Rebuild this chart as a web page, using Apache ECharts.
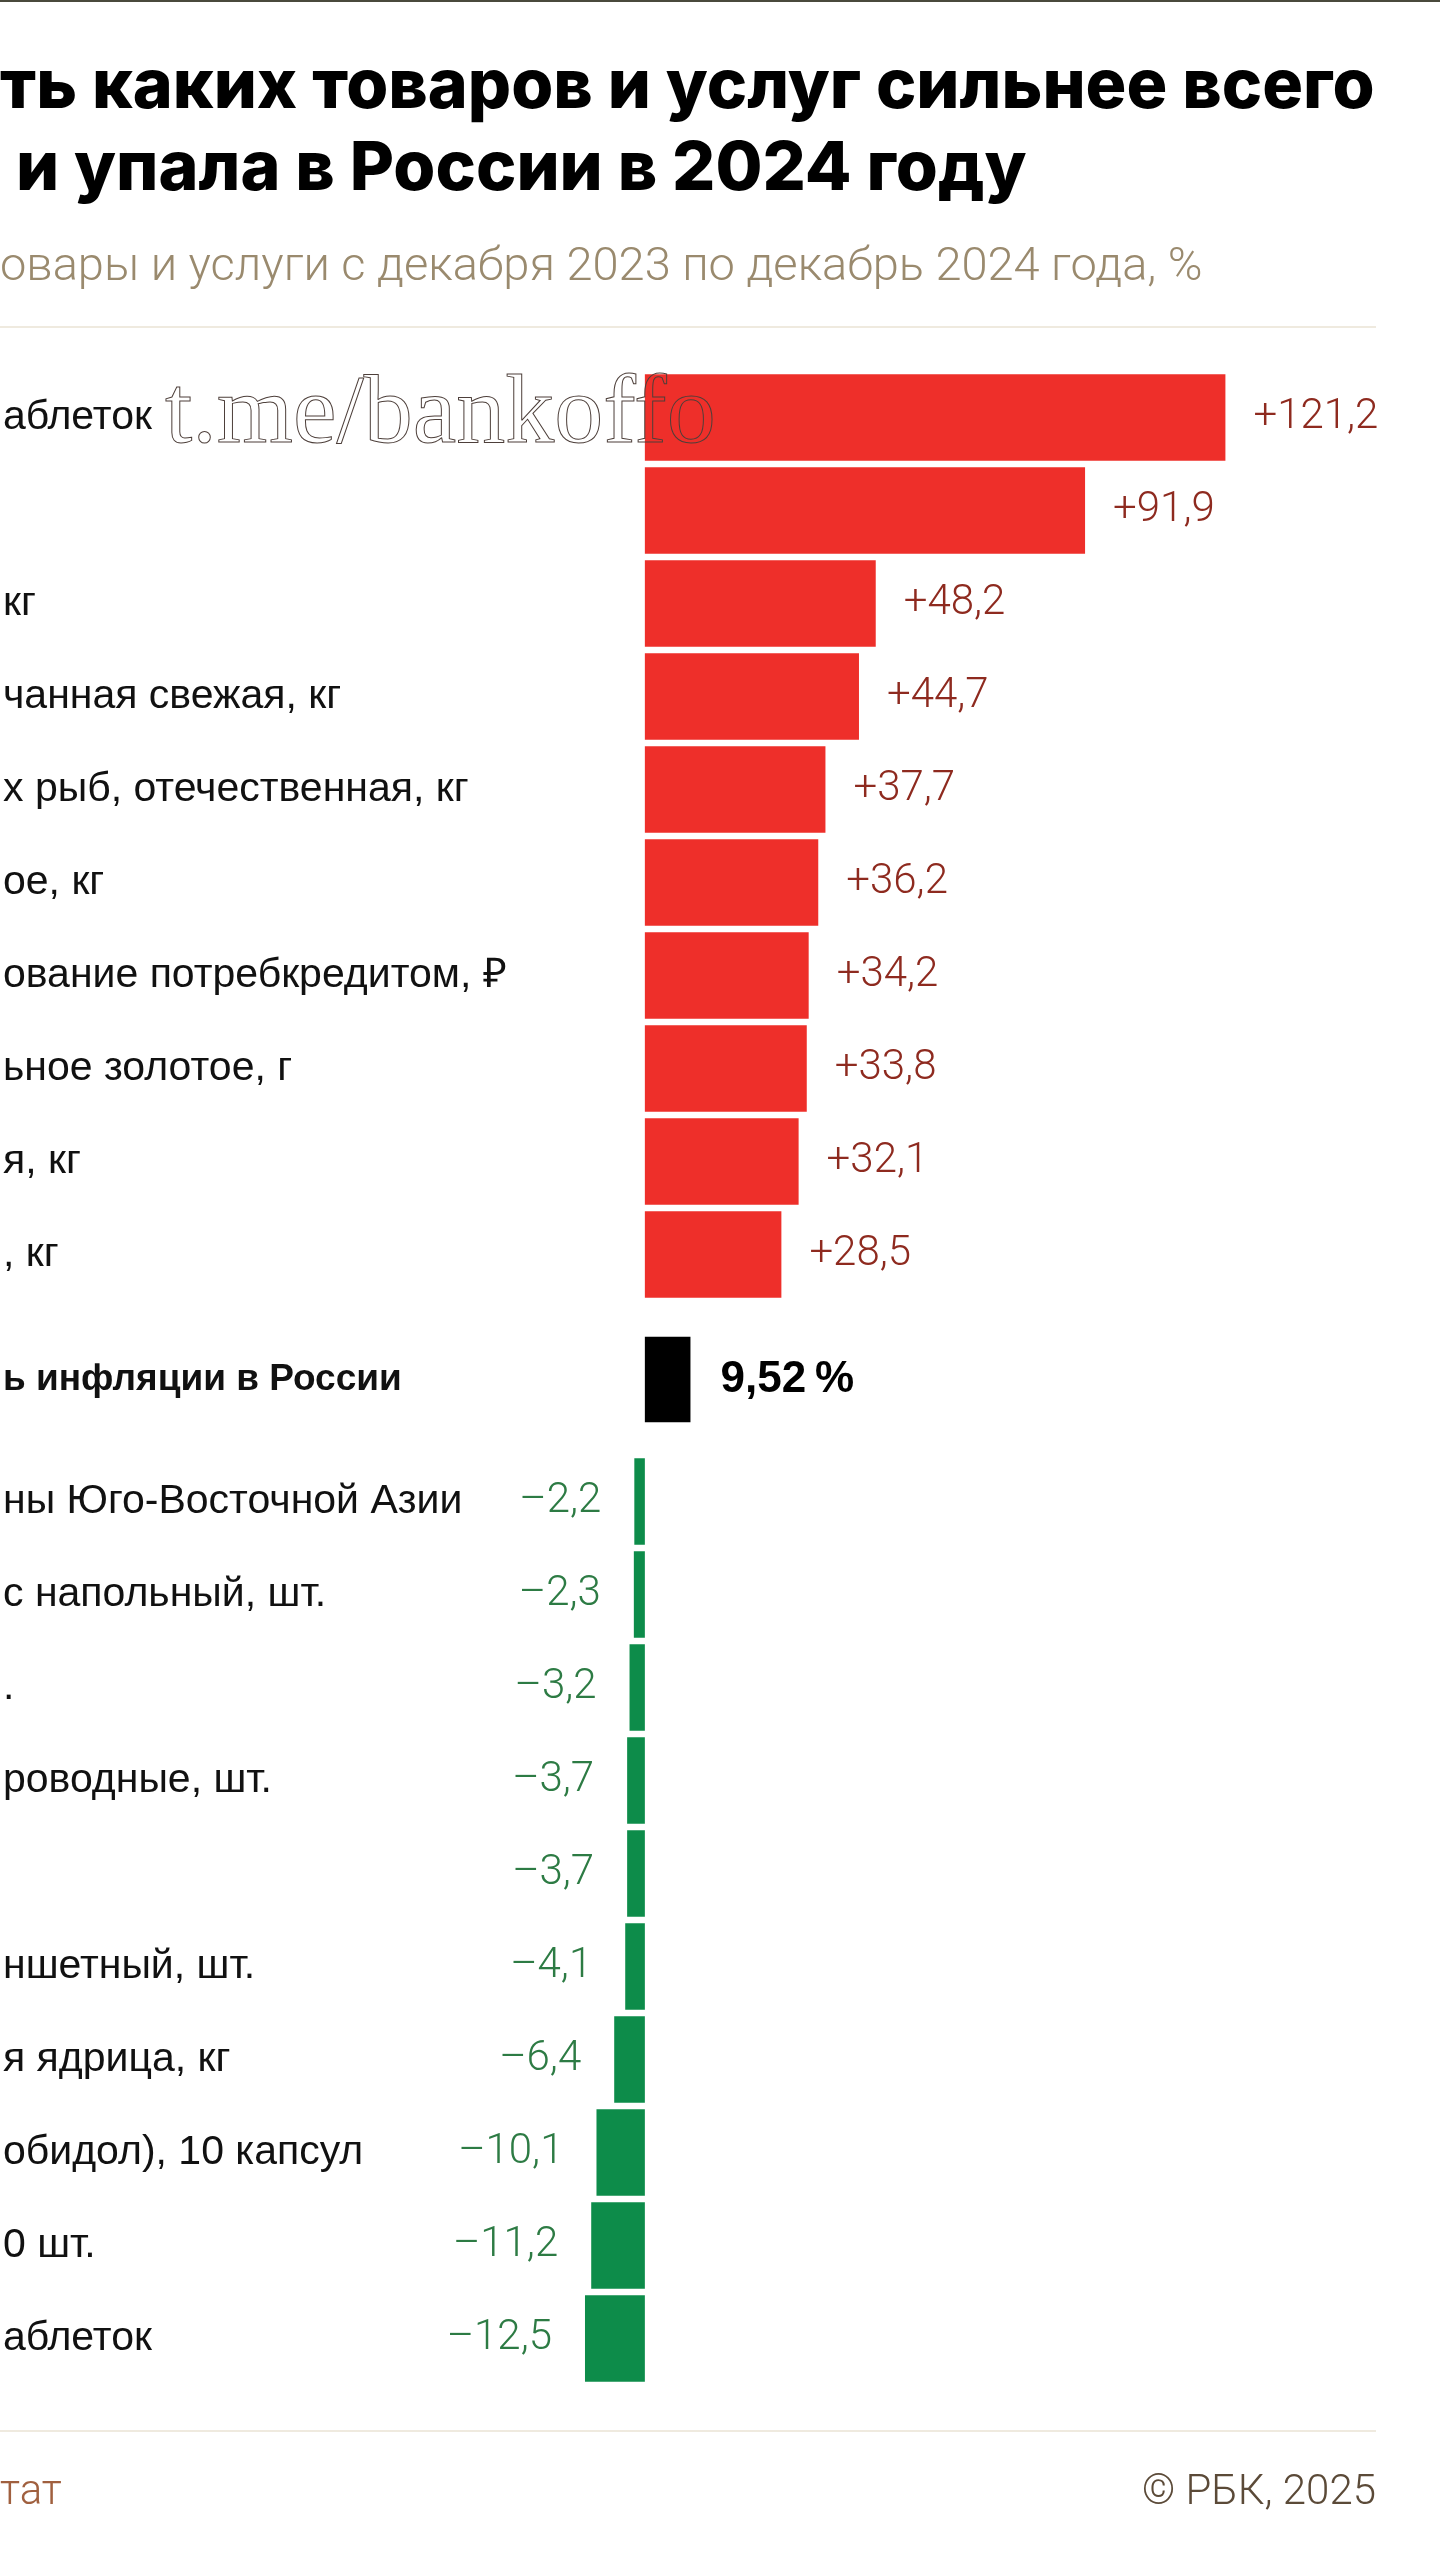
<!DOCTYPE html>
<html>
<head>
<meta charset="utf-8" />
<script src="https://cdn.jsdelivr.net/npm/echarts@6/dist/echarts.min.js"></script>
<style>
  html, body { margin: 0; padding: 0; background: #fff; }
  #chart { width: 1440px; height: 2560px; }
</style>
</head>
<body>
<div id="chart"></div>
<script>
const topLabels = [
  "аблеток",
  "",
  "кг",
  "чанная свежая, кг",
  "х рыб, отечественная, кг",
  "ое, кг",
  "ование потребкредитом, ₽",
  "ьное золотое, г",
  "я, кг",
  ", кг",
];
const topValues = [121.2, 91.9, 48.2, 44.7, 37.7, 36.2, 34.2, 33.8, 32.1, 28.5];

const inflationLabels = ["ь инфляции в России"];
const inflationValues = [9.52];

const bottomLabels = [
  "ны Юго-Восточной Азии",
  "с напольный, шт.",
  ".",
  "роводные, шт.",
  "",
  "ншетный, шт.",
  "я ядрица, кг",
  "обидол), 10 капсул",
  "0 шт.",
  "аблеток",
];
const bottomValues = [-2.2, -2.3, -3.2, -3.7, -3.7, -4.1, -6.4, -10.1, -11.2, -12.5];

const titleLines = ["ть каких товаров и услуг сильнее всего", "и упала в России в 2024 году"];
const subtitle = "овары и услуги с декабря 2023 по декабрь 2024 года, %";
const sourceText = "тат";
const creditText = "© РБК, 2025";

const fmt = (v) => (v > 0 ? "+" : "–") + Math.abs(v).toFixed(1).replace(".", ",");

const labelFont = { fontFamily: "Liberation Sans", fontSize: 41, color: "#111" };
const valueFont = { fontFamily: "Roboto", fontWeight: 300, fontSize: 42 };

const chart = echarts.init(document.getElementById("chart"));

const grids = [
  { left: 0, right: 0, top: 371, height: 930 },
  { left: 0, right: 0, top: 1333, height: 93 },
  { left: 0, right: 0, top: 1455, height: 930 },
];

const xAxes = grids.map((g, i) => ({
  type: "value",
  gridIndex: i,
  min: -134,
  max: 166,
  show: false,
}));

const yAxis = (i, data, bold) => ({
  type: "category",
  gridIndex: i,
  inverse: true,
  data: data,
  axisLine: { show: false },
  axisTick: { show: false },
  axisLabel: {
    interval: 0,
    align: "left",
    margin: 0,
    ...labelFont,
    fontSize: bold ? 37 : 41,
    fontWeight: bold ? "bold" : "normal",
  },
});

chart.setOption({
  animation: false,
  backgroundColor: "#fff",
  grid: grids,
  xAxis: xAxes,
  yAxis: [
    yAxis(0, topLabels),
    yAxis(1, inflationLabels, true),
    yAxis(2, bottomLabels),
  ],
  series: [
    {
      type: "bar",
      xAxisIndex: 0,
      yAxisIndex: 0,
      data: topValues,
      barCategoryGap: "7%",
      itemStyle: { color: "#ee2f2a" },
      label: {
        show: true,
        position: "right",
        distance: 28,
        formatter: (p) => fmt(p.value),
        color: "#8e2a1f",
        ...valueFont,
      },
    },
    {
      type: "bar",
      xAxisIndex: 1,
      yAxisIndex: 1,
      data: inflationValues,
      barCategoryGap: "8%",
      itemStyle: { color: "#000" },
      label: {
        show: true,
        position: "right",
        distance: 30,
        formatter: (p) => p.value.toFixed(2).replace(".", ",") + "\u202f%",
        fontFamily: "Liberation Sans",
        fontWeight: "bold",
        fontSize: 44,
        color: "#000",
      },
    },
    {
      type: "bar",
      xAxisIndex: 2,
      yAxisIndex: 2,
      data: bottomValues,
      barCategoryGap: "7%",
      itemStyle: { color: "#0d8c4a" },
      label: {
        show: true,
        position: "left",
        distance: 33,
        formatter: (p) => fmt(p.value),
        color: "#2d7b44",
        ...valueFont,
      },
    },
  ],
  graphic: [
    { type: "rect", shape: { x: 0, y: 0, width: 1440, height: 2 }, style: { fill: "#4a4a3c" } },
    {
      type: "text",
      left: 0,
      top: 96 - 42,
      style: { text: titleLines[0], fontFamily: "Inter", fontWeight: 800, fontSize: 68, fill: "#000" },
    },
    {
      type: "text",
      left: 16,
      top: 178 - 42,
      style: { text: titleLines[1], fontFamily: "Inter", fontWeight: 800, fontSize: 68, fill: "#000" },
    },
    {
      type: "text",
      left: 0,
      top: 274 - 29,
      style: { text: subtitle, fontFamily: "Roboto", fontWeight: 300, fontSize: 47, fill: "#9a8a6e" },
    },
    { type: "rect", shape: { x: 0, y: 326, width: 1376, height: 2 }, style: { fill: "#efeadf" } },
    { type: "rect", shape: { x: 0, y: 2430, width: 1376, height: 2 }, style: { fill: "#efeadf" } },
    {
      type: "text",
      left: 0,
      top: 2497 - 25,
      style: { text: sourceText, fontFamily: "Roboto", fontWeight: 300, fontSize: 42, fill: "#a0603f" },
    },
    {
      type: "text",
      right: 1440 - 1376,
      top: 2497 - 25,
      style: { text: creditText, fontFamily: "Roboto", fontWeight: 300, fontSize: 42, fill: "#5b4a38" },
    },
    {
      type: "text",
      z: 100,
      x: 165,
      y: 416,
      style: {
        text: "t.me/bankoffo",
        fontFamily: "Liberation Serif",
        fontSize: 98,
        verticalAlign: "middle",
        fill: "rgba(255,255,255,0)",
        stroke: "#4d3f3a",
        lineWidth: 1,
      },
    },
  ],
});
</script>
</body>
</html>
